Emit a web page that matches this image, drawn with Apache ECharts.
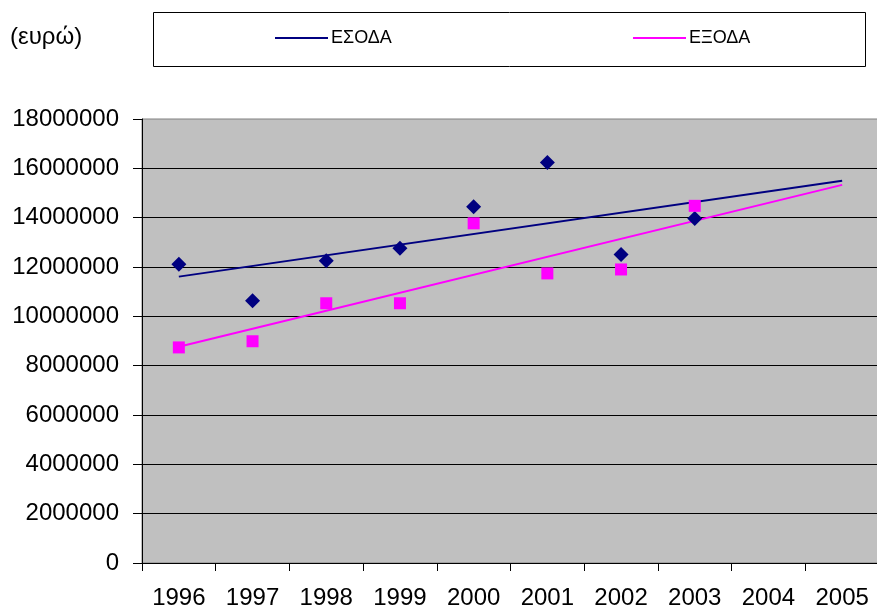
<!DOCTYPE html>
<html>
<head>
<meta charset="utf-8">
<script src="https://cdn.jsdelivr.net/npm/echarts@6/dist/echarts.min.js"></script>
<style>html,body{margin:0;padding:0;background:#fff}#c{width:877px;height:610px}</style>
</head>
<body>
<div id="c"></div>
<script>
var years = ['1996','1997','1998','1999','2000','2001','2002','2003','2004','2005'];
var incomeName = 'ΕΣΟΔΑ';
var expenseName = 'ΕΞΟΔΑ';
var income  = [12110000, 10630000, 12250000, 12760000, 14440000, 16240000, 12510000, 13970000, null, null];
var expense = [ 8740000,  8990000, 10530000, 10530000, 13770000, 11740000, 11900000, 14480000, null, null];
// trend lines: endpoints
var incomeTrend  = [11610000, null, null, null, null, null, null, null, null, 15500000];
var expenseTrend = [ 8770000, null, null, null, null, null, null, null, null, 15330000];
var yTicks = { min: 0, max: 18000000, interval: 2000000 };
var unitLabel = '(ευρώ)';

var FONT = '"Liberation Sans", Arial, sans-serif';
var chart = echarts.init(document.getElementById('c'), null, {renderer: 'canvas'});
chart.setOption({
  animation: false,
  backgroundColor: '#ffffff',
  textStyle: { fontFamily: FONT },
  graphic: [
    { type: 'rect', z: 0, shape: { x: 153.5, y: 12.5, width: 712, height: 54 },
      style: { fill: '#ffffff', stroke: '#000000', lineWidth: 1 } },
    { type: 'text', left: 10, top: 25, z: 5,
      style: { text: unitLabel, fontSize: 24, fontFamily: FONT, fill: '#000000' } }
  ],
  legend: [
    { data: [incomeName], left: 275, top: 29, padding: 0, icon: 'rect', itemWidth: 53, itemHeight: 2,
      textStyle: { fontSize: 18, color: '#000', fontFamily: FONT, padding: [0,0,0,-2] }, z: 10 },
    { data: [expenseName], left: 633, top: 29, padding: 0, icon: 'rect', itemWidth: 53, itemHeight: 2,
      textStyle: { fontSize: 18, color: '#000', fontFamily: FONT, padding: [0,0,0,-2] }, z: 10 }
  ],
  grid: { left: 142, top: 119, width: 737, bottom: 47, show: true, containLabel: false,
          outerBoundsMode: 'none',
          backgroundColor: '#C0C0C0', borderColor: '#808080', borderWidth: 1 },
  xAxis: {
    type: 'category', data: years, boundaryGap: true,
    axisLine: { lineStyle: { color: '#000', width: 1 } },
    axisTick: { show: true, interval: 0, length: 8, lineStyle: { color: '#000' } },
    axisLabel: { interval: 0, fontSize: 24, color: '#000', margin: 23, fontFamily: FONT },
    splitLine: { show: false }
  },
  yAxis: {
    type: 'value', min: yTicks.min, max: yTicks.max, interval: yTicks.interval,
    axisLine: { show: true, lineStyle: { color: '#000', width: 1 } },
    axisTick: { show: true, length: 9, lineStyle: { color: '#000' } },
    axisLabel: { fontSize: 24, color: '#000', margin: 23, fontFamily: FONT,
                 formatter: function (v) { return String(v); } },
    splitLine: { show: true, showMaxLine: false, lineStyle: { color: '#000', width: 1 } }
  },
  series: [
    { name: incomeName, type: 'line', data: incomeTrend, connectNulls: true, symbol: 'none',
      lineStyle: { color: '#000080', width: 2 }, itemStyle: { color: '#000080' }, z: 3 },
    { name: expenseName, type: 'line', data: expenseTrend, connectNulls: true, symbol: 'none',
      lineStyle: { color: '#FF00FF', width: 2 }, itemStyle: { color: '#FF00FF' }, z: 3 },
    { name: 'income-points', type: 'scatter', data: income, symbol: 'diamond', symbolSize: 15,
      itemStyle: { color: '#000080', opacity: 1 }, z: 4 },
    { name: 'expense-points', type: 'scatter', data: expense, symbol: 'rect', symbolSize: 12,
      itemStyle: { color: '#FF00FF', opacity: 1 }, z: 4 }
  ]
});
</script>
</body>
</html>
